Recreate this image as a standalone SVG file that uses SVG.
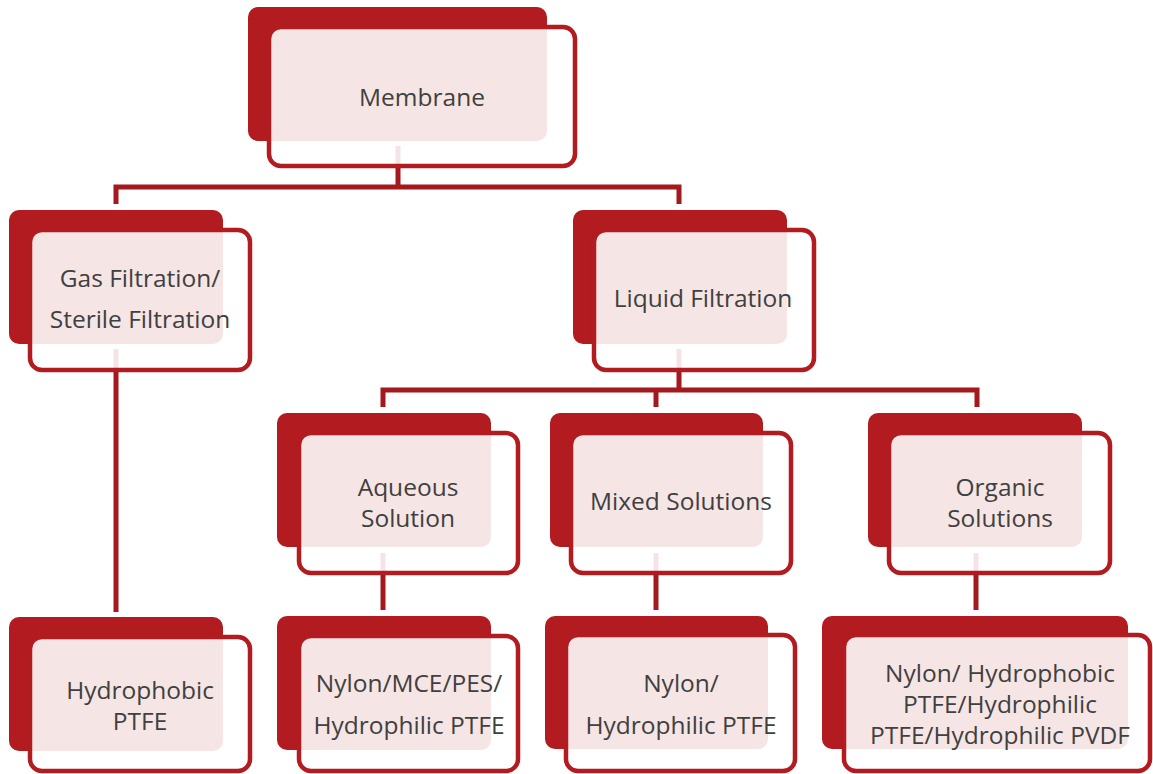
<svg xmlns="http://www.w3.org/2000/svg" width="1153" height="774" viewBox="0 0 1153 774">
<style>
.back{fill:#b21b1f;}
.front{fill:#ffffff;fill-opacity:0.885;stroke:#b21b1f;stroke-width:4.5;}
.conn{fill:none;stroke:#a3191d;stroke-width:5;stroke-linejoin:miter;stroke-linecap:butt;}
.t{font-family:"Open Sans","Liberation Sans",sans-serif;font-size:24.5px;fill:#404040;text-anchor:middle;}
</style>
<rect width="1153" height="774" fill="#ffffff"/>
<g id="connectors">
<path class="conn" d="M398,146 V187 M116,204 V187 H679 V204"/>
<path class="conn" d="M116,349 V612"/>
<path class="conn" d="M679,349 V390 M383,407 V390 H977 V407 M656,390 V407"/>
<path class="conn" d="M383,553 V610"/>
<path class="conn" d="M656,553 V610"/>
<path class="conn" d="M976,553 V610"/>
</g>
<g id="node-membrane">
<rect class="back" x="248" y="7" width="299" height="134" rx="10"/>
<rect class="front" x="269" y="27" width="306" height="139" rx="12"/>
<text class="t" x="422" y="106">Membrane</text>
</g>
<g id="node-gas">
<rect class="back" x="9" y="210" width="214" height="134" rx="10"/>
<rect class="front" x="30" y="230" width="220" height="140" rx="12"/>
<text class="t" x="140" y="287">Gas Filtration/</text>
<text class="t" x="140" y="328">Sterile Filtration</text>
</g>
<g id="node-liquid">
<rect class="back" x="573" y="210" width="214" height="134" rx="10"/>
<rect class="front" x="594" y="230" width="220" height="140" rx="12"/>
<text class="t" x="703" y="307">Liquid Filtration</text>
</g>
<g id="node-aqueous">
<rect class="back" x="277" y="413" width="214" height="134" rx="10"/>
<rect class="front" x="299" y="433" width="219" height="140" rx="12"/>
<text class="t" x="408" y="496">Aqueous</text>
<text class="t" x="408" y="527">Solution</text>
</g>
<g id="node-mixed">
<rect class="back" x="550" y="413" width="213" height="134" rx="10"/>
<rect class="front" x="571" y="433" width="220" height="140" rx="12"/>
<text class="t" x="681" y="510">Mixed Solutions</text>
</g>
<g id="node-organic">
<rect class="back" x="868" y="413" width="214" height="134" rx="10"/>
<rect class="front" x="889" y="433" width="221" height="140" rx="12"/>
<text class="t" x="1000" y="496">Organic</text>
<text class="t" x="1000" y="527">Solutions</text>
</g>
<g id="node-hydrophobic">
<rect class="back" x="9" y="617" width="214" height="134" rx="10"/>
<rect class="front" x="30" y="637" width="220" height="134" rx="12"/>
<text class="t" x="140" y="699">Hydrophobic</text>
<text class="t" x="140" y="730">PTFE</text>
</g>
<g id="node-aqueous-media">
<rect class="back" x="277" y="616" width="214" height="134" rx="10"/>
<rect class="front" x="299" y="636" width="219" height="135" rx="12"/>
<text class="t" x="409" y="692">Nylon/MCE/PES/</text>
<text class="t" x="409" y="734">Hydrophilic PTFE</text>
</g>
<g id="node-mixed-media">
<rect class="back" x="545" y="616" width="223" height="133" rx="10"/>
<rect class="front" x="566" y="635" width="229" height="136" rx="12"/>
<text class="t" x="681" y="692">Nylon/</text>
<text class="t" x="681" y="734">Hydrophilic PTFE</text>
</g>
<g id="node-organic-media">
<rect class="back" x="822" y="616" width="306" height="133" rx="10"/>
<rect class="front" x="844" y="635" width="306" height="136" rx="12"/>
<text class="t" x="1000" y="682">Nylon/ Hydrophobic</text>
<text class="t" x="1000" y="713">PTFE/Hydrophilic</text>
<text class="t" x="1000" y="744">PTFE/Hydrophilic PVDF</text>
</g>
</svg>
